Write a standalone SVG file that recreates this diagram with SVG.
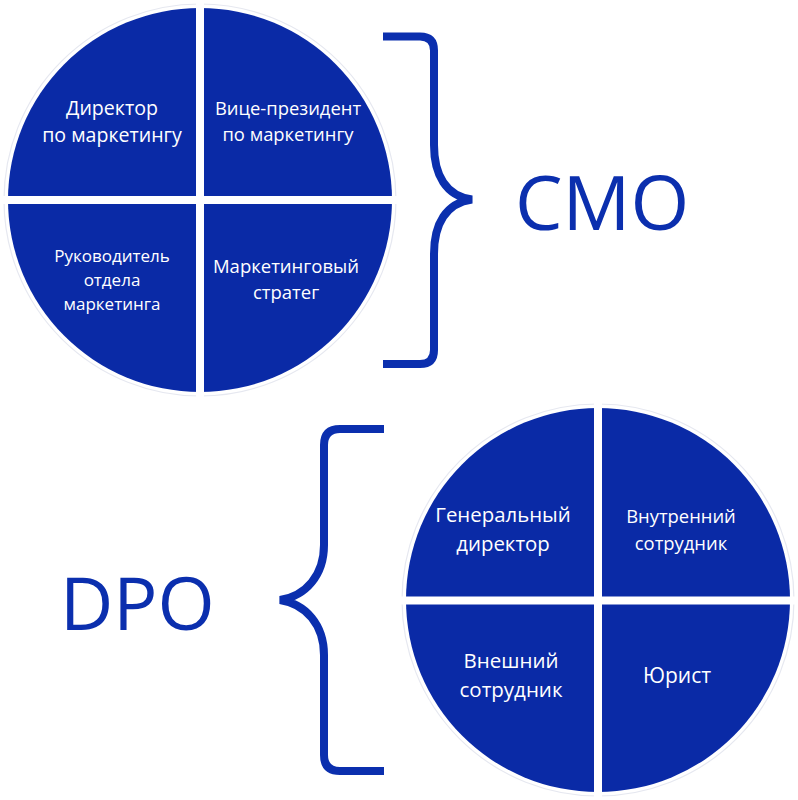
<svg xmlns="http://www.w3.org/2000/svg" width="798" height="800" viewBox="0 0 798 800">
<style>
.q{fill:#0a2aa6}
.ring{fill:none;stroke:#e6e8f0;stroke-width:1.2}
.gap{stroke:#ffffff;stroke-width:8}
.lbl{font-family:"Open Sans","Noto Sans",sans-serif;font-size:19px;fill:#ffffff;text-anchor:middle}
.big{font-family:"Open Sans","Noto Sans",sans-serif;font-size:74px;fill:#0b2fae}
.br{fill:none;stroke:#0b2fae;stroke-width:8}
</style>
<rect width="798" height="800" fill="#ffffff"/>
<g id="cmo-circle">
<circle class="ring" cx="200" cy="200" r="196"/>
<circle class="q" cx="200" cy="200" r="192"/>
<line class="gap" x1="200" y1="0" x2="200" y2="400"/>
<line class="gap" x1="0" y1="200" x2="400" y2="200"/>
</g>
<g id="cmo-director">
<text class="lbl" x="112" y="115" style="font-size:19.6px">Директор</text>
<text class="lbl" x="112" y="142" style="font-size:19.6px">по маркетингу</text>
</g>
<g id="cmo-vp">
<text class="lbl" x="288" y="115" style="font-size:18.4px">Вице-президент</text>
<text class="lbl" x="288" y="141" style="font-size:18.4px">по маркетингу</text>
</g>
<g id="cmo-head">
<text class="lbl" x="112" y="262" style="font-size:17px">Руководитель</text>
<text class="lbl" x="112" y="286" style="font-size:17px">отдела</text>
<text class="lbl" x="112" y="310" style="font-size:17px">маркетинга</text>
</g>
<g id="cmo-strategist">
<text class="lbl" x="286" y="273" style="font-size:18.5px">Маркетинговый</text>
<text class="lbl" x="286" y="299" style="font-size:18.5px">стратег</text>
</g>
<g id="dpo-circle">
<circle class="ring" cx="598" cy="600" r="196"/>
<circle class="q" cx="598" cy="600" r="192"/>
<line class="gap" x1="598" y1="400" x2="598" y2="800"/>
<line class="gap" x1="398" y1="600.5" x2="798" y2="600.5"/>
</g>
<g id="dpo-ceo">
<text class="lbl" x="503" y="522" style="font-size:20.4px">Генеральный</text>
<text class="lbl" x="503" y="551" style="font-size:20.4px">директор</text>
</g>
<g id="dpo-internal">
<text class="lbl" x="681" y="523" style="font-size:18.4px">Внутренний</text>
<text class="lbl" x="681" y="550" style="font-size:18.4px">сотрудник</text>
</g>
<g id="dpo-external">
<text class="lbl" x="511" y="668" style="font-size:20.5px">Внешний</text>
<text class="lbl" x="511" y="697" style="font-size:20.5px">сотрудник</text>
</g>
<g id="dpo-lawyer">
<text class="lbl" x="677" y="683" style="font-size:21px">Юрист</text>
</g>
<g id="connectors">
<path class="br" d="M383 36.5 H420 Q434 36.5 434 50.5 V145 C434 175 446 196 472 199.5 C446 203 434 224 434 254 V350 Q434 364 420 364 H383"/>
<path class="br" d="M384 429 H340 Q324 429 324 445 V545 C324 575 306 596 280 600 C306 604 324 625 324 655 V755 Q324 771 340 771 H384"/>
</g>
<g id="label-cmo">
<text class="big" x="515" y="230" style="font-size:75.5px">CMO</text>
</g>
<g id="label-dpo">
<text class="big" x="60" y="630" style="font-size:73.5px">DPO</text>
</g>
</svg>
